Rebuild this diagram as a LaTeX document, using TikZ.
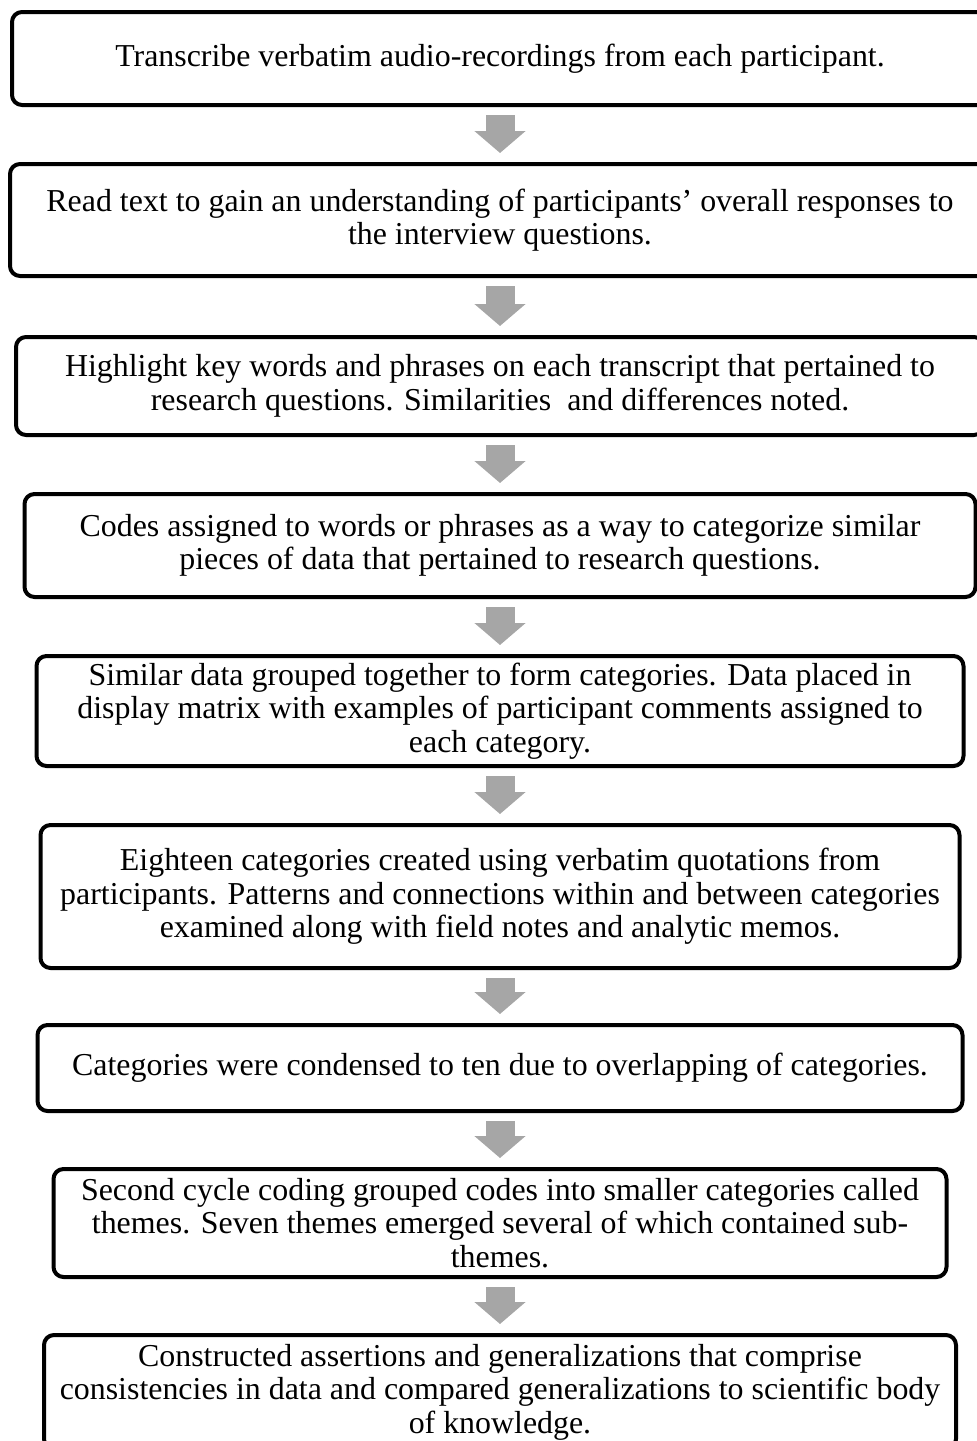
\documentclass[tikz,border=0pt]{standalone}
\usepackage{fontspec}
\setmainfont{Liberation Serif}
\usetikzlibrary{arrows.meta}
\definecolor{arrowgray}{RGB}{166,166,166}
\tikzset{
  stepbox/.style={draw, line width=4pt, rounded corners=10pt, align=center, inner sep=0pt,
    font=\fontsize{31.9}{33.5}\selectfont},
  flowarrow/.style={draw=arrowgray, line width=29pt, -{Triangle[length=22pt,width=50pt]},
    shorten <=8pt, shorten >=9pt}
}
\begin{document}
\begin{tikzpicture}[x=1pt,y=-1pt,line join=round]
  \useasboundingbox (0,0) rectangle (977,1441);
  \clip (0,0) rectangle (977,1441);
  \node[stepbox, minimum width=976pt, minimum height=93pt] (s1) at (500,58.5)
    {Transcribe verbatim audio-recordings from each participant.};
  \node[stepbox, minimum width=980pt, minimum height=112pt] (s2) at (500,220)
    {Read text to gain an understanding of participants’ overall responses to\\
     the interview questions.};
  \node[stepbox, minimum width=968pt, minimum height=98pt] (s3) at (500,386)
    {Highlight key words and phrases on each transcript that pertained to\\
     research questions. Similarities~ and differences noted.};
  \node[stepbox, minimum width=951pt, minimum height=103pt] (s4) at (500,545.5)
    {Codes assigned to words or phrases as a way to categorize similar\\
     pieces of data that pertained to research questions.};
  \node[stepbox, minimum width=927pt, minimum height=110pt] (s5) at (500,711)
    {Similar data grouped together to form categories. Data placed in\\
     display matrix with examples of participant comments assigned to\\
     each category.};
  \node[stepbox, minimum width=919pt, minimum height=143pt] (s6) at (500,896.5)
    {Eighteen categories created using verbatim quotations from\\
     participants. Patterns and connections within and between categories\\
     examined along with field notes and analytic memos.};
  \node[stepbox, minimum width=925pt, minimum height=86pt] (s7) at (500,1068)
    {Categories were condensed to ten due to overlapping of categories.};
  \node[stepbox, minimum width=893pt, minimum height=108pt] (s8) at (500,1223)
    {Second cycle coding grouped codes into smaller categories called\\
     themes. Seven themes emerged several of which contained sub-\\
     themes.};
  \node[stepbox, minimum width=912pt, minimum height=114pt] (s9) at (500,1392)
    {Constructed assertions and generalizations that comprise\\
     consistencies in data and compared generalizations to scientific body\\
     of knowledge.};
  \foreach \a/\b in {s1/s2,s2/s3,s3/s4,s4/s5,s5/s6,s6/s7,s7/s8,s8/s9}{
    \draw[flowarrow] (\a.south) -- (\b.north);
  }
\end{tikzpicture}
\end{document}
